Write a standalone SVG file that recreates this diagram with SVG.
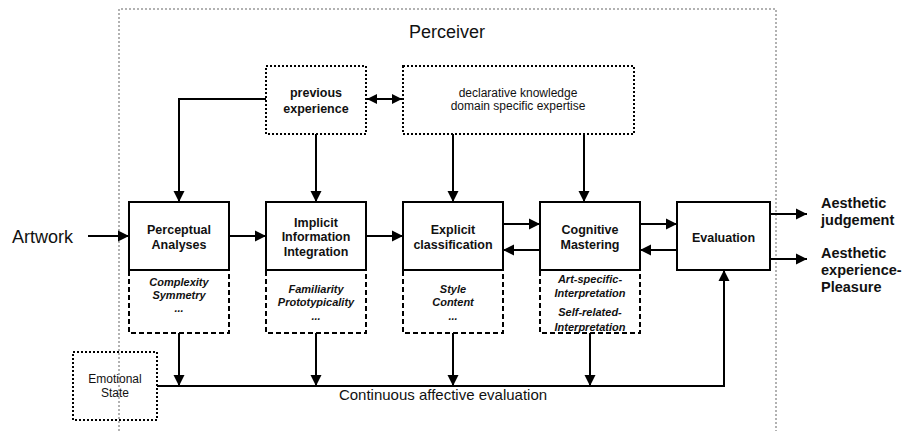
<svg xmlns="http://www.w3.org/2000/svg" width="903" height="431" viewBox="0 0 903 431">
  <defs>
    <marker id="arrow" markerUnits="userSpaceOnUse" markerWidth="12" markerHeight="12" viewBox="0 0 12 12" refX="11" refY="6" orient="auto-start-reverse">
      <path d="M0,0.5 L11,6 L0,11.5 Z" fill="#000"/>
    </marker>
    <marker id="arrowSmall" markerUnits="userSpaceOnUse" markerWidth="11" markerHeight="11" viewBox="0 0 11 11" refX="10" refY="5.5" orient="auto-start-reverse">
      <path d="M0,0.5 L10,5.5 L0,10.5 Z" fill="#000"/>
    </marker>
  </defs>
  <style>
    text { font-family: "Liberation Sans", Arial, sans-serif; fill: #111; }
    .box { fill: #fff; stroke: #000; stroke-width: 2; }
    .dash { fill: #fff; stroke: #000; stroke-width: 2; stroke-dasharray: 5 3; }
    .dot { fill: #fff; stroke: #000; stroke-width: 2; stroke-dasharray: 2 2; }
    .frame { fill: none; stroke: #999; stroke-width: 1.5; stroke-dasharray: 2 2; }
    .conn { fill: none; stroke: #000; stroke-width: 2; }
    .lbl { font-size: 12.5px; font-weight: bold; text-anchor: middle; }
    .sub { font-size: 11px; font-weight: bold; font-style: italic; text-anchor: middle; }
    .out { font-size: 14.5px; font-weight: bold; }
  </style>

  <rect width="903" height="431" fill="#fff"/>

  <!-- perceiver frame (open at the bottom) -->
  <g id="perceiver">
    <path class="frame" d="M119,431 V9 H776 V431"/>
    <text x="447" y="38" font-size="18" text-anchor="middle">Perceiver</text>
  </g>

  <g id="artwork">
    <text x="12" y="243" font-size="18">Artwork</text>
  </g>

  <g id="previous-experience">
    <rect class="dot" x="266" y="66" width="100" height="68"/>
    <text class="lbl" x="316" y="97" font-size="14">previous</text>
    <text class="lbl" x="316" y="113" font-size="14">experience</text>
  </g>

  <g id="declarative-knowledge">
    <rect class="dot" x="403" y="66" width="231" height="68"/>
    <text x="518" y="97" font-size="12" text-anchor="middle">declarative knowledge</text>
    <text x="518" y="110" font-size="12" text-anchor="middle">domain specific expertise</text>
  </g>

  <g id="perceptual-analyses">
    <rect class="dash" x="129" y="270" width="100" height="63"/>
    <rect class="box" x="129" y="202" width="100" height="68"/>
    <text class="lbl" x="179" y="234">Perceptual</text>
    <text class="lbl" x="179" y="249">Analyses</text>
    <text class="sub" x="179" y="286">Complexity</text>
    <text class="sub" x="179" y="299">Symmetry</text>
    <text class="sub" x="179" y="312">...</text>
  </g>

  <g id="implicit-integration">
    <rect class="dash" x="266" y="270" width="100" height="63"/>
    <rect class="box" x="266" y="202" width="100" height="68"/>
    <text class="lbl" x="316" y="227">Implicit</text>
    <text class="lbl" x="316" y="241">Information</text>
    <text class="lbl" x="316" y="256">Integration</text>
    <text class="sub" x="316" y="293">Familiarity</text>
    <text class="sub" x="316" y="306">Prototypicality</text>
    <text class="sub" x="316" y="320">...</text>
  </g>

  <g id="explicit-classification">
    <rect class="dash" x="403" y="270" width="100" height="63"/>
    <rect class="box" x="403" y="202" width="100" height="68"/>
    <text class="lbl" x="453" y="234">Explicit</text>
    <text class="lbl" x="453" y="249">classification</text>
    <text class="sub" x="453" y="293">Style</text>
    <text class="sub" x="453" y="306">Content</text>
    <text class="sub" x="453" y="320">...</text>
  </g>

  <g id="cognitive-mastering">
    <rect class="dash" x="540" y="270" width="100" height="63"/>
    <rect class="box" x="540" y="202" width="100" height="68"/>
    <text class="lbl" x="590" y="234">Cognitive</text>
    <text class="lbl" x="590" y="249">Mastering</text>
    <text class="sub" x="590" y="283">Art-specific-</text>
    <text class="sub" x="590" y="297">Interpretation</text>
    <text class="sub" x="590" y="316">Self-related-</text>
    <text class="sub" x="590" y="331">Interpretation</text>
  </g>

  <g id="evaluation">
    <rect class="box" x="677" y="202" width="93" height="68"/>
    <text class="lbl" x="723.5" y="242">Evaluation</text>
  </g>

  <!-- transparent so the frame line shows through it -->
  <g id="emotional-state">
    <rect class="dot" x="73" y="352" width="84" height="68" fill="none" style="fill:none"/>
    <text x="115" y="383" font-size="12" text-anchor="middle">Emotional</text>
    <text x="115" y="397" font-size="12" text-anchor="middle">State</text>
  </g>

  <g id="aesthetic-judgement">
    <text class="out" x="821" y="208">Aesthetic</text>
    <text class="out" x="821" y="225">judgement</text>
  </g>

  <g id="aesthetic-experience">
    <text class="out" x="821" y="258">Aesthetic</text>
    <text class="out" x="821" y="275">experience-</text>
    <text class="out" x="821" y="292">Pleasure</text>
  </g>

  <g id="affective-label">
    <text x="443" y="400" font-size="15" text-anchor="middle">Continuous affective evaluation</text>
  </g>

  <g id="connectors">
    <!-- knowledge sources feeding the processing stages -->
    <path class="conn" d="M367,99 H402" marker-start="url(#arrowSmall)" marker-end="url(#arrowSmall)"/>
    <path class="conn" d="M266,99 H179 V202" marker-end="url(#arrow)"/>
    <path class="conn" d="M316,134 V202" marker-end="url(#arrow)"/>
    <path class="conn" d="M453,134 V202" marker-end="url(#arrow)"/>
    <path class="conn" d="M584,134 V202" marker-end="url(#arrow)"/>

    <!-- main processing chain -->
    <path class="conn" d="M88,236 H129" marker-end="url(#arrow)"/>
    <path class="conn" d="M229,236 H266" marker-end="url(#arrow)"/>
    <path class="conn" d="M366,236 H403" marker-end="url(#arrow)"/>
    <path class="conn" d="M503,224 H540" marker-end="url(#arrow)"/>
    <path class="conn" d="M540,250 H503" marker-end="url(#arrow)"/>
    <path class="conn" d="M640,224 H677" marker-end="url(#arrow)"/>
    <path class="conn" d="M677,250 H640" marker-end="url(#arrow)"/>

    <!-- outputs -->
    <path class="conn" d="M770,214 H807" marker-end="url(#arrow)"/>
    <path class="conn" d="M770,259 H807" marker-end="url(#arrow)"/>

    <!-- continuous affective evaluation loop -->
    <path class="conn" d="M157,386 H724 V270" marker-end="url(#arrow)"/>
    <path class="conn" d="M179,333 V386" marker-end="url(#arrow)"/>
    <path class="conn" d="M316,333 V386" marker-end="url(#arrow)"/>
    <path class="conn" d="M453,333 V386" marker-end="url(#arrow)"/>
    <path class="conn" d="M590,333 V386" marker-end="url(#arrow)"/>
  </g>
</svg>
